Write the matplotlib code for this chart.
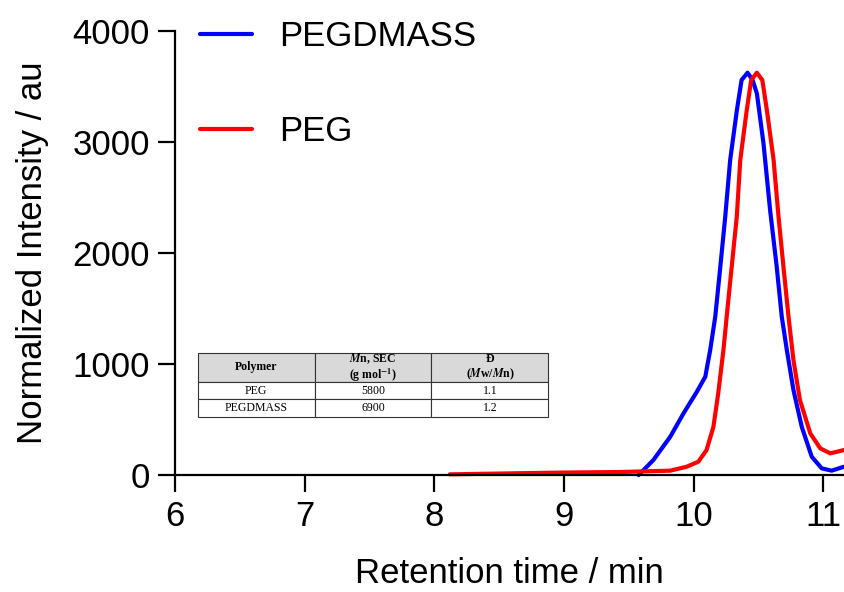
import matplotlib
matplotlib.use("Agg")
import matplotlib.pyplot as plt

# ── Datos ────────────────────────────────────────────────────────────────────
t_pegdmass = [9.576, 9.69, 9.82, 9.922, 10.025, 10.09, 10.128, 10.167, 10.206,
              10.244, 10.282, 10.334, 10.37, 10.416, 10.455, 10.488, 10.539,
              10.59, 10.641, 10.68, 10.719, 10.77, 10.834, 10.911, 10.988,
              11.065, 11.16]
i_pegdmass = [0, 135, 345, 555, 750, 885, 1126, 1426, 1876,
              2327, 2838, 3288, 3558, 3624, 3558, 3438, 2988,
              2387, 1876, 1426, 1126, 766, 435, 165, 60,
              39, 75]

t_peg = [8.12, 8.99, 9.434, 9.56, 9.82, 9.948, 10.037, 10.1, 10.153, 10.19,
         10.23, 10.268, 10.307, 10.333, 10.36, 10.41, 10.444, 10.488, 10.53,
         10.565, 10.617, 10.655, 10.693, 10.732, 10.77, 10.82, 10.9, 10.977,
         11.054, 11.16]
i_peg = [6, 22, 27, 31, 39, 75, 120, 225, 435, 736,
         1126, 1577, 2027, 2327, 2838, 3288, 3558, 3624, 3558,
         3288, 2838, 2327, 1876, 1426, 1036, 676, 375, 240,
         195, 225]

tabla_cols = [r'Polymer', r'$\mathbfit{M}$n, SEC' + '\n' + r'(g mol$^{\mathbf{-1}}$)',
              'Đ\n' + r'($\mathbfit{M}$w/$\mathbfit{M}$n)']
tabla_filas = [['PEG', '5800', '1.1'],
               ['PEGDMASS', '6900', '1.2']]

plt.rcParams.update({
    'font.family': ['Liberation Sans', 'DejaVu Sans'],
    'font.size': 25,
    'mathtext.fontset': 'stix',
    'axes.linewidth': 1.6,
    'xtick.major.width': 1.6,
    'ytick.major.width': 1.6,
    'xtick.major.size': 12,
    'ytick.major.size': 12,
})

fig = plt.figure(figsize=(8.44, 5.92), dpi=100)
ax = fig.add_axes([175 / 844, 117 / 592, 669 / 844, 444 / 592])

ax.plot(t_pegdmass, i_pegdmass, color='#0000ff', lw=3, label='PEGDMASS',
        clip_on=False, solid_capstyle='round', solid_joinstyle='round')
ax.plot(t_peg, i_peg, color='#ff0000', lw=3, label='PEG',
        clip_on=False, solid_capstyle='round', solid_joinstyle='round')

ax.set_xlim(6, 11.16)
ax.set_ylim(0, 4000)
ax.set_xticks([6, 7, 8, 9, 10, 11])
ax.set_yticks([0, 1000, 2000, 3000, 4000])
ax.spines['top'].set_visible(False)
ax.spines['right'].set_visible(False)
ax.tick_params(axis='both', labelsize=25, pad=6)

ax.set_xlabel('Retention time / min', fontsize=25, labelpad=17)
ax.set_ylabel('Normalized Intensity / au', fontsize=25, labelpad=17)

leg = ax.legend(loc='upper left', bbox_to_anchor=(0.037, 1.025), frameon=False,
                borderpad=0, borderaxespad=0, handlelength=1.5,
                handletextpad=0.8, labelspacing=1.8, fontsize=25)
for h in leg.get_lines():
    h.set_linewidth(3)

# ── Tabla insertada ───────────────────────────────────────────────────────────
tab = ax.table(cellText=tabla_filas, colLabels=tabla_cols, cellLoc='center',
               bbox=[0.034, 0.1306, 0.524, 0.1442])
tab.auto_set_font_size(False)
for (r, c), cell in tab.get_celld().items():
    cell.set_linewidth(0.8)
    cell.set_edgecolor('#333333')
    txt = cell.get_text()
    txt.set_fontfamily(['Liberation Serif', 'DejaVu Serif'])
    txt.set_fontsize(8.5)
    if r == 0:
        cell.set_height(1.65)
        cell.set_facecolor('#d9d9d9')
        txt.set_fontweight('bold')
        txt.set_linespacing(1.1)
    else:
        cell.set_height(1.0)

fig.savefig('out.png', dpi=100)
